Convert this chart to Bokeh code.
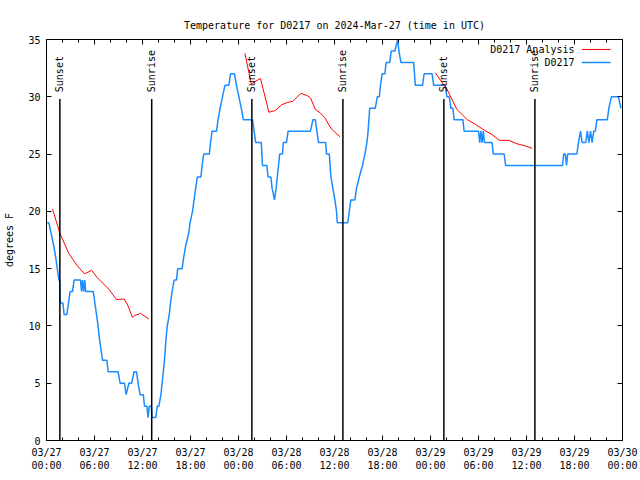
import math
from bokeh.plotting import figure
from bokeh.models import FixedTicker, LinearAxis, Range1d, Label
from bokeh.embed import file_html
from bokeh.resources import INLINE
from bokeh.core.properties import value

MONO = "DejaVu Sans Mono"

# ---- observed temperatures (D0217), hours since 03/27 00:00 UTC ----
obs_hours = [0.0, 0.3, 0.6, 0.9, 1.15, 1.35, 1.55, 1.65, 1.72, 2.05, 2.2, 2.55, 2.75, 2.95, 3.25, 3.45,
             4.25, 4.38, 4.5, 4.65, 4.78, 4.9, 5.85, 6.05, 6.25, 6.45, 6.6, 6.8, 7.0, 7.55, 7.7, 8.95,
             9.2, 9.75, 9.95, 10.3, 10.65, 10.95, 11.25, 11.45, 11.7, 12.1, 12.25, 12.55, 12.7, 12.85,
             13.1, 13.2, 13.65, 13.85, 14.05, 14.3, 14.45, 14.6, 14.75, 14.85, 14.95, 15.1, 15.35,
             15.5, 15.7, 15.95, 16.25, 16.4, 16.95, 17.15, 17.4, 17.75, 17.95, 18.25, 18.45, 18.65,
             18.85, 19.3, 19.45, 19.65, 20.35, 20.5, 20.7, 21.25, 21.45, 21.7, 22.0, 22.3, 22.8, 23.0,
             23.5, 23.75, 24.05, 24.35, 24.6, 25.75, 25.95, 26.15, 26.85, 27.0, 27.55, 27.7, 28.05,
             28.2, 28.35, 28.5, 28.7, 28.85, 29.0, 29.15, 29.5, 29.6, 30.0, 30.2, 33.0, 33.3, 33.6,
             33.8, 34.0, 34.9, 35.0, 35.35, 35.45, 35.55, 35.8, 36.05, 36.25, 36.35, 37.65, 37.85,
             38.05, 38.55, 38.75, 39.1, 39.5, 39.8, 40.05, 40.2, 40.3, 40.4, 41.1, 41.35, 41.6, 41.75,
             41.95, 42.3, 42.45, 42.9, 43.1, 43.55, 43.9, 44.05, 44.3, 45.9, 46.1, 47.0, 47.2, 48.2,
             48.4, 49.85, 50.05, 50.35, 50.55, 50.8, 50.95, 52.05, 52.2, 54.0, 54.15, 54.3, 54.45,
             54.6, 54.75, 55.7, 55.85, 57.2, 57.4, 64.5, 64.65, 64.85, 65.0, 65.15, 66.3, 66.5, 66.75,
             66.95, 67.4, 67.6, 67.8, 68.0, 68.2, 68.4, 68.6, 68.8, 70.1, 70.3, 70.6, 71.5, 71.8]
obs_temps = [19, 19, 18, 17, 16, 15, 14, 14, 12, 12, 11, 11, 12, 13, 13, 14,
             14, 13, 14, 13, 14, 13, 13, 12, 11, 10, 9, 8, 7, 7, 6, 6,
             5, 5, 4, 5, 5, 6, 6, 5, 4, 4, 3, 3, 2, 3,
             3, 2, 2, 3, 3, 4, 5, 6, 7, 8, 9, 10, 11,
             12, 13, 14, 14, 15, 15, 16, 17, 18, 19, 20, 21, 22,
             23, 23, 24, 25, 25, 26, 27, 27, 28, 29, 30, 31, 31, 32,
             32, 31, 30, 29, 28, 28, 27, 26, 26, 24, 24, 23, 23,
             22, 21.5, 21, 22, 23, 24, 25, 25, 26, 26, 27, 27, 28, 28,
             27, 26, 26, 25, 25, 24, 23, 22, 21, 20, 19, 19, 20,
             21, 21, 22, 23, 24, 25, 26, 27, 28, 29, 29, 30, 30, 31,
             32, 32, 33, 33, 34, 34, 35, 34, 33, 33, 31, 31, 32, 32,
             31, 31, 30, 30, 29, 29, 28, 28, 27, 27, 26, 27, 26,
             27, 26, 26, 25, 25, 24, 24, 25, 25, 24, 25, 25, 26, 27,
             26, 26, 27, 26, 27, 26, 27, 27, 28, 28, 29, 30, 30, 29]

# ---- analysis temperatures (D0217 Analysis), three separate runs ----
ana1_hours = [0.75, 1.67, 2.8, 3.8, 4.75, 5.2, 5.65, 6.3, 7.8, 8.75, 9.7, 10.1, 10.75, 11.0, 11.75, 12.8]
ana1_temps = [20.2, 18.1, 16.3, 15.3, 14.55, 14.7, 14.85, 14.25, 13.2, 12.3, 12.35, 11.9, 10.75, 10.9, 11.1, 10.6]
ana2_hours = [24.8, 25.6, 26.0, 26.75, 27.8, 28.6, 29.4, 30.1, 30.8, 31.8, 32.6, 33.0, 33.6, 34.2, 34.75, 35.6, 36.7]
ana2_temps = [33.8, 31.1, 31.3, 31.6, 28.65, 28.8, 29.3, 29.5, 29.6, 30.3, 30.1, 29.9, 28.9, 28.6, 28.2, 27.2, 26.5]
ana3_hours = [48.6, 50.1, 51.3, 52.6, 53.6, 54.7, 55.7, 56.6, 57.8, 58.8, 59.9, 60.7]
ana3_temps = [32.1, 30.6, 28.9, 28.0, 27.6, 27.1, 26.7, 26.2, 26.2, 25.9, 25.7, 25.5]

sunset_hours = [1.67, 25.67, 49.67]
sunrise_hours = [13.15, 37.05, 61.05]

x_tick_hours = [0, 6, 12, 18, 24, 30, 36, 42, 48, 54, 60, 66, 72]
x_tick_labels = ["03/27\n00:00", "03/27\n06:00", "03/27\n12:00", "03/27\n18:00",
                 "03/28\n00:00", "03/28\n06:00", "03/28\n12:00", "03/28\n18:00",
                 "03/29\n00:00", "03/29\n06:00", "03/29\n12:00", "03/29\n18:00",
                 "03/30\n00:00"]
x_minor_hours = list(range(0, 73, 2))
y_ticks = [0, 5, 10, 15, 20, 25, 30, 35]

series_names = ["D0217 Analysis", "D0217"]
series_colors = ["#ff0000", "#1a8cff"]

# ---- layout constants ----
SUN_LINE_TOP = 29.8
SUN_TEXT_Y = 30.4

p = figure(width=640, height=480,
           x_range=Range1d(0, 72), y_range=Range1d(0, 35),
           output_backend="svg", toolbar_location=None,
           min_border_left=46, min_border_right=18, min_border_top=39, min_border_bottom=40)
p.background_fill_color = "white"
p.border_fill_color = "white"
p.outline_line_color = "black"
p.outline_line_width = 1
p.xgrid.visible = False
p.ygrid.visible = False

p.title.text = "Temperature for D0217 on 2024-Mar-27 (time in UTC)"
p.title.align = "center"
p.title.text_font = MONO
p.title.text_font_size = "10px"
p.title.text_font_style = "normal"
p.title.text_color = "black"
p.title.standoff = 18

xt = FixedTicker(ticks=x_tick_hours, minor_ticks=x_minor_hours)
yt = FixedTicker(ticks=y_ticks, minor_ticks=[])

def style_axis(ax, ticker, labels=True):
    ax.ticker = ticker
    ax.axis_line_color = "black"
    ax.major_tick_in = 5
    ax.major_tick_out = 0
    ax.minor_tick_in = 3
    ax.minor_tick_out = 0
    ax.major_tick_line_color = "black"
    ax.minor_tick_line_color = "black"
    ax.major_label_text_font = MONO
    ax.major_label_text_color = "black"
    if not labels:
        ax.major_label_text_alpha = 0
        ax.major_label_text_font_size = "1px"
        ax.major_label_standoff = 0

xa = p.xaxis[0]
style_axis(xa, xt)
xa.major_label_overrides = {h: lab for h, lab in zip(x_tick_hours, x_tick_labels)}
xa.major_label_text_font_size = "10px"
xa.major_label_standoff = 6

ya = p.yaxis[0]
style_axis(ya, yt)
ya.major_label_text_font_size = "10px"
ya.major_label_standoff = 6
ya.axis_label = "degrees F"
ya.axis_label_text_font = MONO
ya.axis_label_text_font_size = "10px"
ya.axis_label_text_font_style = "normal"
ya.axis_label_text_color = "black"
ya.axis_label_standoff = 10

top = LinearAxis()
style_axis(top, FixedTicker(ticks=x_tick_hours, minor_ticks=x_minor_hours), labels=False)
p.add_layout(top, "above")
right = LinearAxis()
style_axis(right, FixedTicker(ticks=y_ticks, minor_ticks=[]), labels=False)
p.add_layout(right, "right")

# observed line
p.line(obs_hours, obs_temps, line_color=series_colors[1], line_width=1.5)

# analysis line (three runs, separated by gaps)
nan = float("nan")
ana_hours = ana1_hours + [nan] + ana2_hours + [nan] + ana3_hours
ana_temps = ana1_temps + [nan] + ana2_temps + [nan] + ana3_temps
p.line(ana_hours, ana_temps, line_color=series_colors[0], line_width=1)

# sunrise / sunset markers
sun_hours = sunset_hours + sunrise_hours
sun_text = ["Sunset"] * len(sunset_hours) + ["Sunrise"] * len(sunrise_hours)
p.segment(x0=sun_hours, y0=[0] * len(sun_hours), x1=sun_hours, y1=[SUN_LINE_TOP] * len(sun_hours),
          line_color="black", line_width=1.5)
p.text(x=sun_hours, y=[SUN_TEXT_Y] * len(sun_hours), text=sun_text, angle=math.pi / 2,
       text_align="left", text_baseline="middle", text_font=value(MONO),
       text_font_size="10px", text_color="black")

# legend drawn gnuplot-style (label then sample line)
LEG_TEXT_X = 66.0
LEG_LINE_X0, LEG_LINE_X1 = 66.9, 70.5
LEG_Y = [34.13, 33.0]
for name, col, ly in zip(series_names, series_colors, LEG_Y):
    p.add_layout(Label(x=LEG_TEXT_X, y=ly, text=name, text_align="right", text_baseline="middle",
                       text_font=MONO, text_font_size="10px", text_color="black"))
p.segment(x0=[LEG_LINE_X0] * 2, y0=LEG_Y, x1=[LEG_LINE_X1] * 2, y1=LEG_Y,
          line_color=series_colors, line_width=[1, 1.5])

open("out.html", "w").write(file_html(p, INLINE))
